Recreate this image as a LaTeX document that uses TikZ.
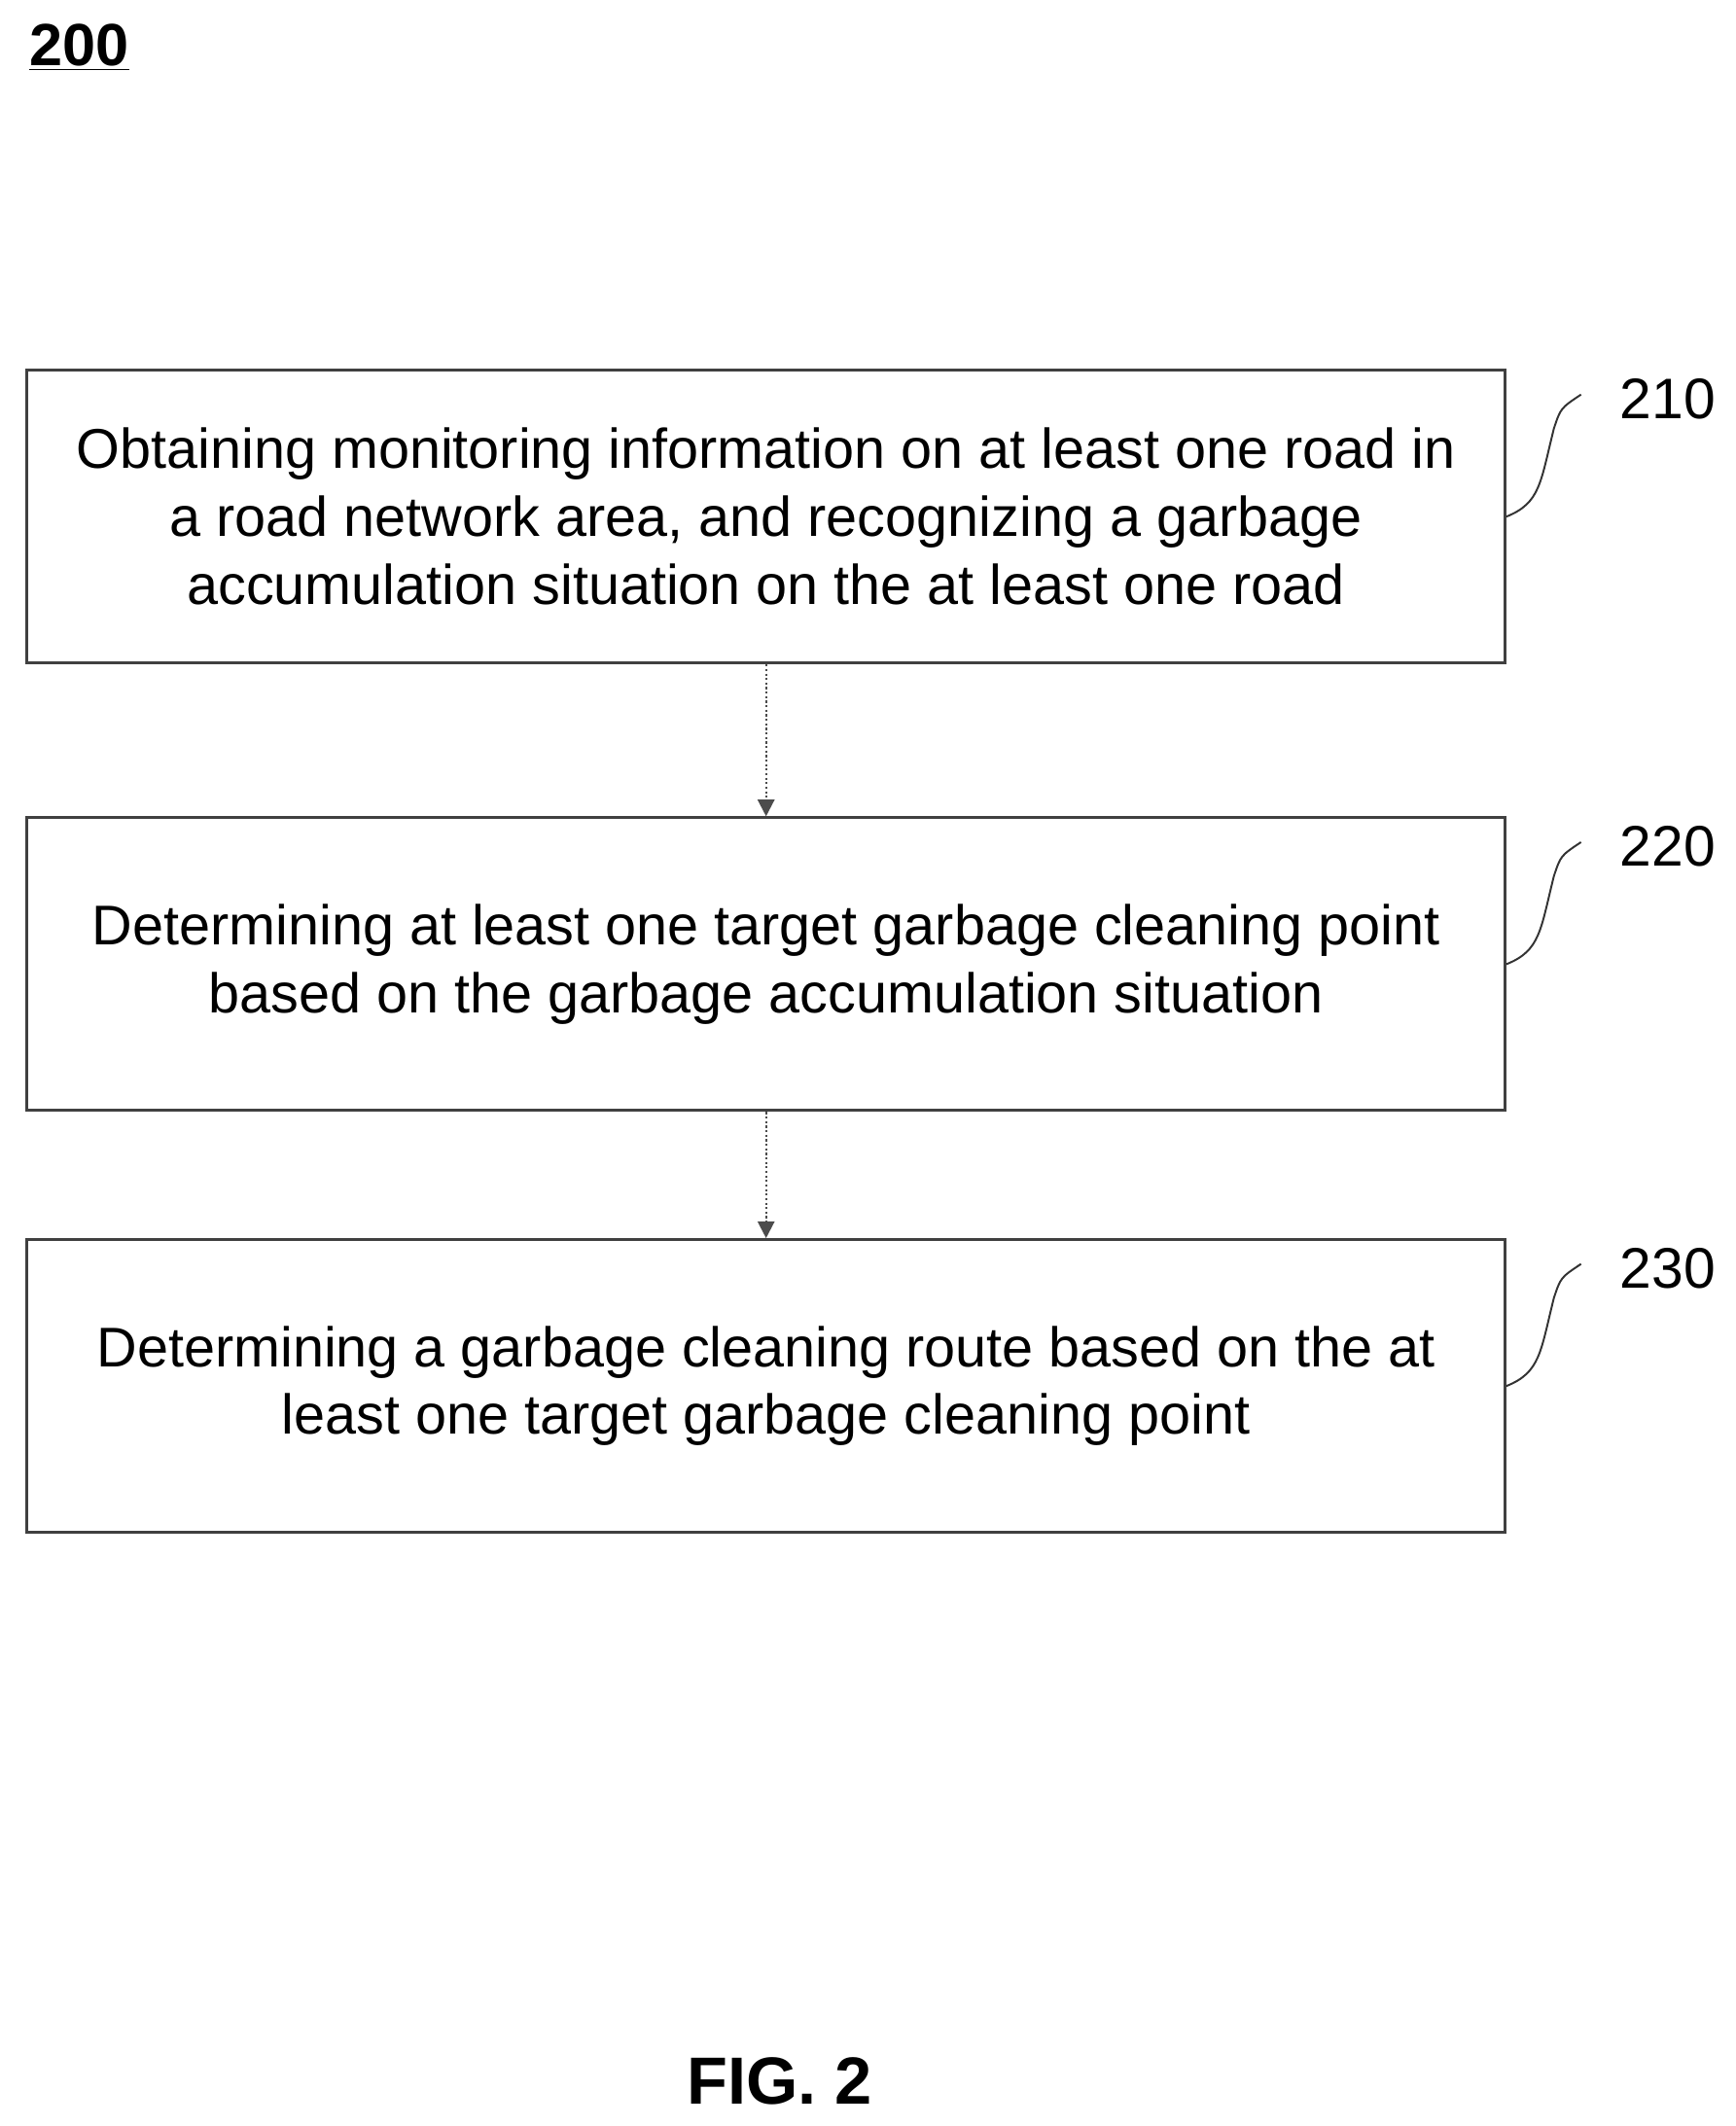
\documentclass[tikz,border=0pt]{standalone}
\usepackage{fontspec}
\setmainfont{Liberation Sans}
\usetikzlibrary{positioning,arrows.meta}
\begin{document}
\begin{tikzpicture}[
stage/.style={draw=black!75, line width=1.2pt, minimum width=21.8cm, minimum height=4.32cm, align=center, font=\fontsize{23.5}{28.5}\selectfont, inner sep=0pt},
flow/.style={draw=black!70, densely dotted, line width=0.9pt, -{Triangle[length=7pt,width=7pt]}},
tag/.style={font=\fontsize{24}{26}\selectfont},
lead/.style={draw=black!80, line width=0.8pt}
]
\useasboundingbox (0,0) rectangle (25.6,-31.36);

\node[font=\bfseries\fontsize{25}{28}\selectfont] (fig) at (1.17,-0.7) {\underline{200}};

\node[stage] (s1) at (11.3,-7.62) {Obtaining monitoring information on at least one road in\\a road network area, and recognizing a garbage\\accumulation situation on the at least one road};
\node[stage, below=2.24cm of s1] (s2) {Determining at least one target garbage cleaning point\\based on the garbage accumulation situation};
\node[stage, below=1.86cm of s2] (s3) {Determining a garbage cleaning route based on the at\\least one target garbage cleaning point};

\draw[flow] (s1) -- (s2);
\draw[flow] (s2) -- (s3);

%%% reference labels
\foreach \s/\n in {s1/210, s2/220, s3/230}{
	\node[tag, anchor=west] (l\n) at ([shift={(1.55cm,1.74cm)}]\s.east) {\n};
	\draw[lead] (\s.east) .. controls ++(0.5,0.2) and ++(-0.2,-0.8) .. ++(0.7,1.3)
		.. controls ++(0.1,0.3) .. ++(0.4,0.5);
}

\node[font=\bfseries\fontsize{28}{30}\selectfont] (cap) at (11.5,-30.7) {FIG. 2};
\end{tikzpicture}
\end{document}
